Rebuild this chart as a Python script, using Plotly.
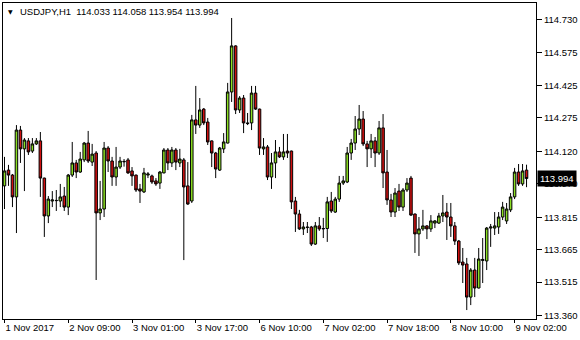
import plotly.graph_objects as go

# ---- data (USDJPY H1) ----
opens = [113.960,114.033,114.010,113.909,114.218,114.131,114.168,114.121,114.154,114.168,
         113.996,113.821,113.890,113.893,113.890,113.913,113.862,114.010,114.066,114.024,
         114.080,114.158,114.070,114.112,113.835,113.853,114.135,114.075,114.001,114.047,
         114.071,114.080,114.029,114.010,113.946,113.932,114.010,114.006,113.983,113.973,
         114.020,114.126,114.066,114.126,114.066,114.080,113.960,113.890,114.265,114.241,
         114.315,114.255,114.168,114.112,114.033,114.131,114.158,114.394,114.607,114.311,
         114.366,114.251,114.251,114.389,114.315,114.131,114.140,114.001,114.066,114.117,
         114.094,114.121,114.121,113.890,113.830,113.761,113.768,113.770,113.691,113.775,
         113.761,113.763,113.890,113.839,113.899,113.973,113.978,114.112,114.158,114.223,
         114.269,114.154,114.131,114.168,114.112,114.228,114.024,113.895,113.839,113.936,
         113.862,113.941,113.996,113.830,113.738,113.761,113.775,113.761,113.788,113.788,
         113.821,113.839,113.816,113.775,113.705,113.608,113.599,113.446,113.571,113.488,
         113.615,113.613,113.765,113.765,113.770,113.816,113.798,113.849,113.909,114.024,
         113.969,114.033]
highs = [114.094,114.057,114.015,114.241,114.237,114.181,114.181,114.181,114.181,114.209,
         113.998,113.913,113.936,113.941,113.969,113.955,114.015,114.163,114.080,114.117,
         114.163,114.214,114.154,114.121,113.983,114.163,114.144,114.094,114.140,114.094,
         114.084,114.089,114.047,114.012,113.969,114.043,114.024,114.012,113.996,114.029,
         114.135,114.135,114.140,114.135,114.131,114.089,114.070,114.288,114.422,114.366,
         114.320,114.274,114.170,114.117,114.140,114.204,114.436,114.736,114.610,114.375,
         114.380,114.297,114.422,114.422,114.317,114.181,114.149,114.112,114.172,114.140,
         114.200,114.200,114.123,113.909,113.849,113.793,113.793,113.775,113.793,113.816,
         113.812,113.909,113.932,113.909,114.006,114.006,114.140,114.177,114.283,114.334,
         114.306,114.168,114.200,114.186,114.260,114.292,114.126,113.923,113.950,113.969,
         113.950,113.996,114.006,113.832,113.816,113.849,113.779,113.825,113.802,113.835,
         113.918,113.881,113.881,113.793,113.710,113.673,113.627,113.580,113.627,113.673,
         113.719,113.770,113.784,113.839,113.839,113.886,113.881,113.927,114.043,114.061,
         114.061,114.058]
lows = [113.853,113.960,113.862,113.742,114.066,113.936,114.103,114.112,114.149,113.909,
        113.724,113.788,113.862,113.844,113.862,113.844,113.825,114.001,113.996,114.020,
        114.070,114.066,114.052,113.525,113.802,113.816,114.024,113.960,113.960,114.038,
        114.049,114.015,113.960,113.932,113.881,113.927,113.996,113.969,113.960,113.946,
        114.018,114.033,114.047,114.033,114.047,113.617,113.872,113.881,114.200,114.228,
        114.241,114.149,114.047,113.996,114.029,114.112,114.156,114.348,114.292,114.297,
        114.204,114.241,114.218,114.311,114.103,114.103,113.987,113.946,113.996,114.089,
        114.080,114.089,113.853,113.747,113.756,113.733,113.742,113.682,113.687,113.752,
        113.719,113.701,113.835,113.835,113.886,113.964,113.973,114.080,114.126,114.195,
        114.144,114.047,114.089,114.047,114.103,113.950,113.872,113.816,113.816,113.844,
        113.844,113.932,113.821,113.650,113.636,113.752,113.714,113.747,113.765,113.784,
        113.793,113.710,113.724,113.687,113.594,113.511,113.386,113.409,113.446,113.486,
        113.511,113.571,113.678,113.733,113.738,113.802,113.784,113.839,113.899,113.960,
        113.960,113.954]
closes = [114.029,114.010,113.909,114.218,114.131,114.172,114.117,114.154,114.168,113.996,
          113.821,113.899,113.895,113.892,113.909,113.862,114.010,114.066,114.024,114.084,
          114.158,114.075,114.107,113.835,113.853,114.135,114.075,114.001,114.047,114.075,
          114.073,114.020,114.006,113.941,113.936,114.020,114.015,113.978,113.969,114.024,
          114.126,114.066,114.126,114.070,114.084,113.955,113.876,114.265,114.241,114.311,
          114.251,114.163,114.112,114.038,114.135,114.163,114.394,114.607,114.311,114.366,
          114.251,114.248,114.389,114.315,114.135,114.140,114.001,114.066,114.117,114.094,
          114.117,114.112,113.886,113.830,113.761,113.770,113.769,113.691,113.775,113.761,
          113.763,113.886,113.844,113.899,113.973,113.983,114.112,114.158,114.223,114.269,
          114.154,114.131,114.168,114.112,114.228,114.020,113.895,113.839,113.927,113.862,
          113.941,113.973,113.825,113.738,113.761,113.775,113.761,113.798,113.798,113.821,
          113.835,113.816,113.775,113.705,113.604,113.594,113.446,113.571,113.488,113.622,
          113.620,113.765,113.770,113.775,113.816,113.862,113.853,113.909,114.024,113.969,
          114.029,113.994]

time_tick_idx = [0, 16, 32, 48, 64, 80, 96, 112, 128]
time_tick_labels = ["1 Nov 2017", "2 Nov 09:00", "3 Nov 01:00", "3 Nov 17:00",
                    "6 Nov 10:00", "7 Nov 02:00", "7 Nov 18:00", "8 Nov 10:00", "9 Nov 02:00"]
price_ticks = [114.730, 114.575, 114.425, 114.275, 114.120, 113.970,
               113.815, 113.665, 113.515, 113.360]
symbol = "USDJPY,H1"

bars = list(range(len(opens)))
GREEN = "#8ADE22"
RED = "#D01010"
FONT = "Liberation Sans"

fig = go.Figure(go.Candlestick(
    x=bars, open=opens, high=highs, low=lows, close=closes,
    increasing=dict(fillcolor=GREEN, line=dict(color="black", width=1)),
    decreasing=dict(fillcolor=RED, line=dict(color="black", width=1)),
    whiskerwidth=0, showlegend=False, hoverinfo="skip",
))

fig.update_layout(
    width=580, height=340,
    margin=dict(l=2, r=43, t=3, b=21),
    paper_bgcolor="white", plot_bgcolor="white",
    font=dict(family=FONT, size=9.5, color="black"),
    showlegend=False,
    boxgap=0.1,
)
fig.update_xaxes(
    range=[-0.375, 133.375], rangeslider_visible=False,
    tickmode="array", tickvals=time_tick_idx, ticktext=time_tick_labels,
    ticks="outside", ticklen=3, tickcolor="black", tickwidth=1,
    ticklabelposition="outside right",
    showline=True, mirror=True, linecolor="black", linewidth=1,
    showgrid=False, zeroline=False,
    tickfont=dict(family=FONT, size=9.5, color="black"),
)
fig.update_yaxes(
    side="right", range=[113.3447, 114.8053],
    tickmode="array", tickvals=price_ticks,
    ticktext=[f"{v:.3f}" for v in price_ticks],
    ticks="outside", ticklen=5, tickcolor="black", tickwidth=1,
    showline=True, mirror=True, linecolor="black", linewidth=1,
    showgrid=False, zeroline=False,
    tickfont=dict(family=FONT, size=9.5, color="black"),
)

last = len(opens) - 1
header = (symbol + "\u00a0\u00a0" + f"{opens[last]:.3f} {highs[last]:.3f} "
          f"{lows[last]:.3f} {closes[last]:.3f}")
fig.add_annotation(xref="paper", yref="paper", x=0, y=1, xanchor="left", yanchor="middle",
                   xshift=15, yshift=-8, text=header, showarrow=False,
                   font=dict(family=FONT, size=9.5, color="black"))
fig.add_annotation(xref="paper", yref="paper", x=0, y=1, xanchor="left", yanchor="middle",
                   xshift=3, yshift=-8, text="\u25BC", showarrow=False,
                   font=dict(family="DejaVu Sans", size=6, color="black"))
fig.add_annotation(xref="paper", yref="y", x=1, y=closes[last], xanchor="left", yanchor="middle",
                   xshift=1, text=f"{closes[last]:.3f}", showarrow=False,
                   bgcolor="black", borderpad=2,
                   font=dict(family=FONT, size=9.5, color="white"))

fig.write_html("out.html")
